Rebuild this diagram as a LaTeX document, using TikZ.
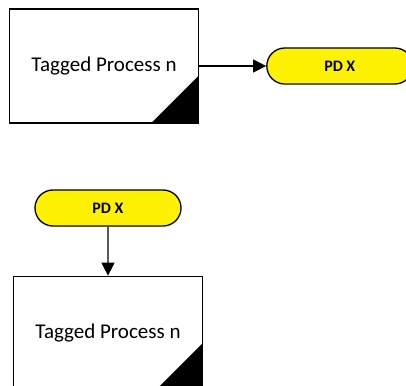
\documentclass[tikz,border=0pt]{standalone}
\usepackage{fontspec}
\setmainfont{Carlito}
\usetikzlibrary{positioning,arrows.meta,shapes.misc}

\begin{document}
\begin{tikzpicture} [x=1pt, y=1pt, node distance=50pt, line width=1.3pt,
                    tagproc/.style={rectangle,draw,minimum width=189pt,minimum height=114pt,
                      inner sep=0pt,font=\fontsize{21}{24}\selectfont,
                      path picture={\fill (path picture bounding box.south east)
                        -- ++(-47pt,0) -- ++(47pt,47pt) -- cycle;}},
                    pdterm/.style={rounded rectangle,draw,fill=yellow,minimum width=146pt,
                      minimum height=36pt,inner sep=0pt,font=\fontsize{16}{18}\selectfont\bfseries},
                    flow/.style={-{Triangle[length=13pt,width=13pt]}}]
\useasboundingbox (0,0) rectangle (406,385);

\node[tagproc] (P1) at (104,319) {Tagged Process n};
\node[pdterm] (PD1) [right=67pt of P1] {PD X};
\node[pdterm] (PD2) at (108,177) {PD X};
\node[tagproc] (P2) [below=49pt of PD2] {Tagged Process n};

\draw[flow] (P1) -- (PD1);
\draw[flow] (PD2) -- (P2);
\end{tikzpicture}
\end{document}
